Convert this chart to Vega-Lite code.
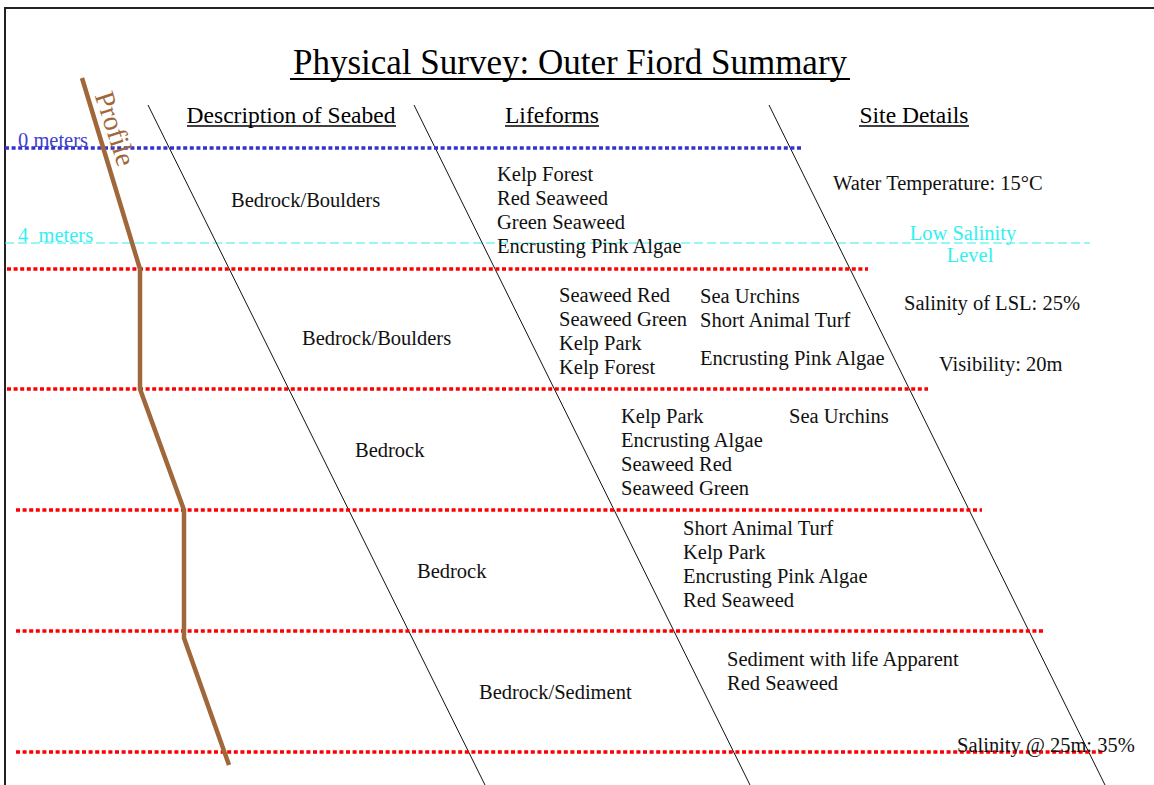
{
  "$schema": "https://vega.github.io/schema/vega-lite/v6.json",
  "width": 1154,
  "height": 785,
  "autosize": "none",
  "padding": 0,
  "background": "white",
  "config": {"view": {"stroke": null}},
  "datasets": {
    "levels": [
      {"name": "0 meters", "kind": "surface", "y": 148, "x": 5, "x2": 802},
      {"name": "4 meters", "kind": "lowsal", "y": 243, "x": 5, "x2": 1090},
      {"name": "band1", "kind": "band", "y": 269, "x": 7, "x2": 868},
      {"name": "band2", "kind": "band", "y": 389, "x": 7, "x2": 928},
      {"name": "band3", "kind": "band", "y": 510, "x": 16, "x2": 982},
      {"name": "band4", "kind": "band", "y": 631, "x": 16, "x2": 1043},
      {"name": "band5", "kind": "band", "y": 752, "x": 16, "x2": 1103}
    ],
    "dividers": [
      {"x": 148, "y": 105, "x2": 485, "y2": 785},
      {"x": 414, "y": 105, "x2": 750, "y2": 785},
      {"x": 769, "y": 105, "x2": 1105, "y2": 785}
    ],
    "profile": [
      {"step": 1, "x": 82, "y": 78},
      {"step": 2, "x": 140, "y": 269},
      {"step": 3, "x": 140, "y": 389},
      {"step": 4, "x": 184, "y": 510},
      {"step": 5, "x": 184, "y": 638},
      {"step": 6, "x": 229, "y": 765}
    ],
    "underlines": [
      {"role": "title", "x": 290, "x2": 850, "y": 79},
      {"role": "header", "x": 187, "x2": 396, "y": 126},
      {"role": "header", "x": 505, "x2": 599, "y": 126},
      {"role": "header", "x": 859, "x2": 969, "y": 126}
    ],
    "texts": [
      {"role": "title", "x": 570, "y": 63, "text": "Physical Survey: Outer Fiord Summary"},
      {"role": "header", "x": 291, "y": 116, "text": "Description of Seabed"},
      {"role": "header", "x": 552, "y": 116, "text": "Lifeforms"},
      {"role": "header", "x": 914, "y": 116, "text": "Site Details"},
      {"role": "body", "x": 231, "y": 201, "text": "Bedrock/Boulders"},
      {"role": "body", "x": 302, "y": 339, "text": "Bedrock/Boulders"},
      {"role": "body", "x": 355, "y": 451, "text": "Bedrock"},
      {"role": "body", "x": 417, "y": 572, "text": "Bedrock"},
      {"role": "body", "x": 479, "y": 693, "text": "Bedrock/Sediment"},
      {"role": "body", "x": 497, "y": 175, "text": "Kelp Forest"},
      {"role": "body", "x": 497, "y": 199, "text": "Red Seaweed"},
      {"role": "body", "x": 497, "y": 223, "text": "Green Seaweed"},
      {"role": "body", "x": 497, "y": 247, "text": "Encrusting Pink Algae"},
      {"role": "body", "x": 559, "y": 296, "text": "Seaweed Red"},
      {"role": "body", "x": 559, "y": 320, "text": "Seaweed Green"},
      {"role": "body", "x": 559, "y": 344, "text": "Kelp Park"},
      {"role": "body", "x": 559, "y": 368, "text": "Kelp Forest"},
      {"role": "body", "x": 700, "y": 297, "text": "Sea Urchins"},
      {"role": "body", "x": 700, "y": 321, "text": "Short Animal Turf"},
      {"role": "body", "x": 700, "y": 359, "text": "Encrusting Pink Algae"},
      {"role": "body", "x": 621, "y": 417, "text": "Kelp Park"},
      {"role": "body", "x": 621, "y": 441, "text": "Encrusting Algae"},
      {"role": "body", "x": 621, "y": 465, "text": "Seaweed Red"},
      {"role": "body", "x": 621, "y": 489, "text": "Seaweed Green"},
      {"role": "body", "x": 789, "y": 417, "text": "Sea Urchins"},
      {"role": "body", "x": 683, "y": 529, "text": "Short Animal Turf"},
      {"role": "body", "x": 683, "y": 553, "text": "Kelp Park"},
      {"role": "body", "x": 683, "y": 577, "text": "Encrusting Pink Algae"},
      {"role": "body", "x": 683, "y": 601, "text": "Red Seaweed"},
      {"role": "body", "x": 727, "y": 660, "text": "Sediment with life Apparent"},
      {"role": "body", "x": 727, "y": 684, "text": "Red Seaweed"},
      {"role": "body", "x": 833, "y": 184, "text": "Water Temperature: 15°C"},
      {"role": "body", "x": 904, "y": 304, "text": "Salinity of LSL: 25%"},
      {"role": "body", "x": 939, "y": 365, "text": "Visibility: 20m"},
      {"role": "body", "x": 957, "y": 746, "text": "Salinity @ 25m: 35%"},
      {"role": "surface", "x": 18, "y": 141, "text": "0 meters"},
      {"role": "lowsal", "x": 18, "y": 236, "text": "4\u00a0 meters"},
      {"role": "lowsalc", "x": 963, "y": 234, "text": "Low Salinity"},
      {"role": "lowsalc", "x": 970, "y": 256, "text": "Level"},
      {"role": "profile", "x": 114, "y": 129, "text": "Profile"}
    ],
    "frame": [{"x": 5, "y": 8, "x2": 1200, "y2": 820}]
  },
  "encoding": {
    "x": {"field": "x", "type": "quantitative", "scale": {"domain": [0, 1154], "nice": false, "zero": false}, "axis": null},
    "y": {"field": "y", "type": "quantitative", "scale": {"domain": [0, 785], "nice": false, "zero": false, "reverse": true}, "axis": null}
  },
  "layer": [
    {
      "data": {"name": "frame"},
      "mark": {"type": "rect", "fill": null, "stroke": "#222222", "strokeWidth": 2},
      "encoding": {"x2": {"field": "x2"}, "y2": {"field": "y2"}}
    },
    {
      "data": {"name": "levels"},
      "transform": [{"filter": "datum.kind === 'lowsal'"}],
      "mark": {"type": "rule", "color": "#33eeee", "strokeWidth": 1, "strokeDash": [9, 4]},
      "encoding": {"x2": {"field": "x2"}}
    },
    {
      "data": {"name": "dividers"},
      "mark": {"type": "rule", "color": "#111111", "strokeWidth": 1},
      "encoding": {"x2": {"field": "x2"}, "y2": {"field": "y2"}}
    },
    {
      "data": {"name": "levels"},
      "transform": [{"filter": "datum.kind === 'band'"}],
      "mark": {"type": "rule", "color": "#ff0000", "strokeWidth": 3.3, "strokeDash": [4, 2.6]},
      "encoding": {"x2": {"field": "x2"}}
    },
    {
      "data": {"name": "levels"},
      "transform": [{"filter": "datum.kind === 'surface'"}],
      "mark": {"type": "rule", "color": "#3333cc", "strokeWidth": 3.3, "strokeDash": [4, 2.6]},
      "encoding": {"x2": {"field": "x2"}}
    },
    {
      "data": {"name": "profile"},
      "mark": {"type": "line", "color": "#a0683a", "strokeWidth": 4.5, "strokeJoin": "miter"},
      "encoding": {"order": {"field": "step", "type": "quantitative"}}
    },
    {
      "data": {"name": "underlines"},
      "transform": [{"filter": "datum.role === 'title'"}],
      "mark": {"type": "rule", "color": "#000000", "strokeWidth": 2},
      "encoding": {"x2": {"field": "x2"}}
    },
    {
      "data": {"name": "underlines"},
      "transform": [{"filter": "datum.role === 'header'"}],
      "mark": {"type": "rule", "color": "#000000", "strokeWidth": 1.5},
      "encoding": {"x2": {"field": "x2"}}
    },
    {
      "data": {"name": "texts"},
      "transform": [{"filter": "datum.role === 'title'"}],
      "mark": {"type": "text", "font": "Liberation Serif", "fontSize": 35, "align": "center", "baseline": "middle", "color": "#000000"},
      "encoding": {"text": {"field": "text"}}
    },
    {
      "data": {"name": "texts"},
      "transform": [{"filter": "datum.role === 'header'"}],
      "mark": {"type": "text", "font": "Liberation Serif", "fontSize": 23.5, "align": "center", "baseline": "middle", "color": "#000000"},
      "encoding": {"text": {"field": "text"}}
    },
    {
      "data": {"name": "texts"},
      "transform": [{"filter": "datum.role === 'body'"}],
      "mark": {"type": "text", "font": "Liberation Serif", "fontSize": 20.5, "align": "left", "baseline": "middle", "color": "#111111"},
      "encoding": {"text": {"field": "text"}}
    },
    {
      "data": {"name": "texts"},
      "transform": [{"filter": "datum.role === 'surface'"}],
      "mark": {"type": "text", "font": "Liberation Serif", "fontSize": 20.5, "align": "left", "baseline": "middle", "color": "#3f3fd0"},
      "encoding": {"text": {"field": "text"}}
    },
    {
      "data": {"name": "texts"},
      "transform": [{"filter": "datum.role === 'lowsal'"}],
      "mark": {"type": "text", "font": "Liberation Serif", "fontSize": 20.5, "align": "left", "baseline": "middle", "color": "#33f0f0"},
      "encoding": {"text": {"field": "text"}}
    },
    {
      "data": {"name": "texts"},
      "transform": [{"filter": "datum.role === 'lowsalc'"}],
      "mark": {"type": "text", "font": "Liberation Serif", "fontSize": 20.5, "align": "center", "baseline": "middle", "color": "#33f0f0"},
      "encoding": {"text": {"field": "text"}}
    },
    {
      "data": {"name": "texts"},
      "transform": [{"filter": "datum.role === 'profile'"}],
      "mark": {"type": "text", "font": "Liberation Serif", "fontSize": 28, "align": "center", "baseline": "middle", "color": "#a0683a", "angle": 72},
      "encoding": {"text": {"field": "text"}}
    }
  ]
}
